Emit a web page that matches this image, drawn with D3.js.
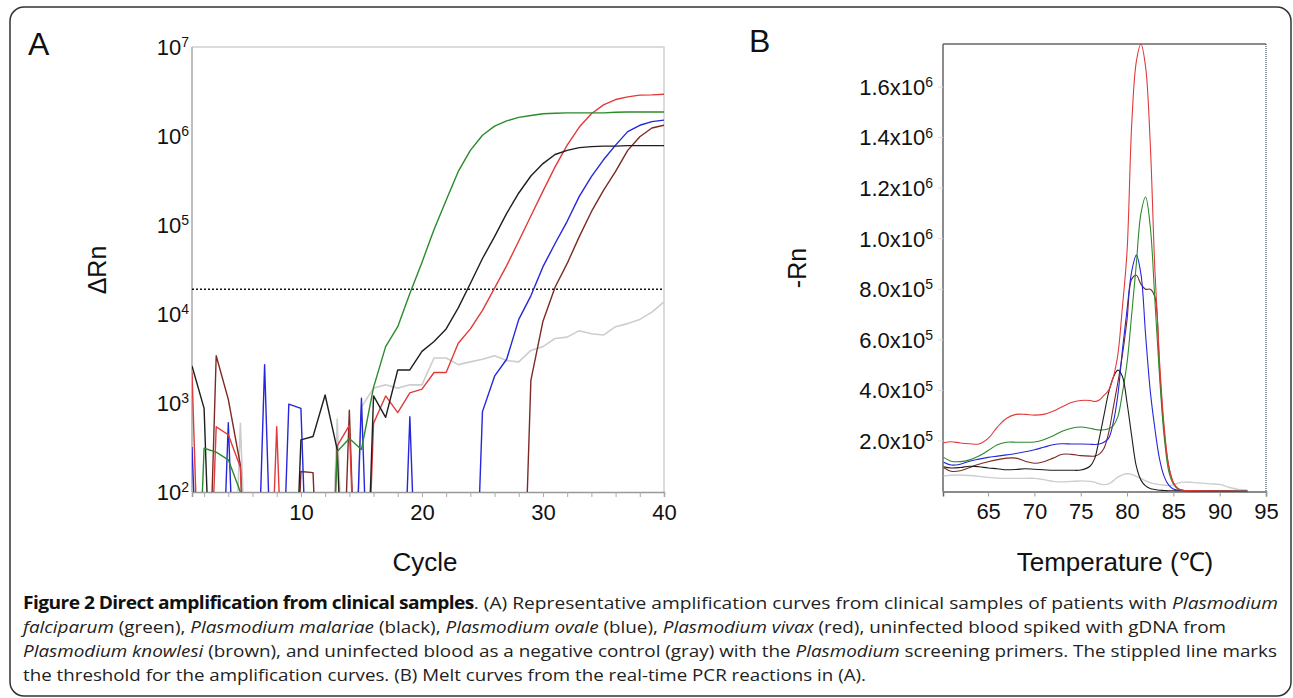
<!DOCTYPE html>
<html><head><meta charset="utf-8">
<script src="https://cdn.jsdelivr.net/npm/d3@7"></script>
<style>body{margin:0;background:#fff}svg{display:block}</style>
</head><body>
<svg id="chart" width="1293" height="698"></svg>
<script>
// ---------- Panel A: amplification curves (ΔRn per cycle, null = below detection) ----------
const cycles = [1,2,3,4,5,6,7,8,9,10,11,12,13,14,15,16,17,18,19,20,21,22,23,24,25,26,27,28,29,30,31,32,33,34,35,36,37,38,39,40];
const ampGreen = [null,310,280,230,100,null,null,null,null,null,null,null,285,400,300,1500,4300,7200,17000,38000,89000,190000,400000,690000,1020000,1290000,1480000,1620000,1700000,1780000,1800000,1820000,1820000,1820000,1820000,1850000,1860000,1860000,1860000,1860000];
const ampBlack = [2600,870,null,null,null,null,null,null,null,385,420,1230,300,null,null,1200,690,2350,2350,3800,4900,6800,11700,22000,42000,74000,135000,229000,355000,490000,620000,690000,740000,760000,770000,770000,780000,780000,780000,780000];
const ampRed = [2200,null,540,440,190,null,null,540,null,null,null,null,330,560,null,590,1200,780,1300,1430,2200,2200,4700,6800,11000,19500,35000,66000,126000,240000,450000,790000,1260000,1780000,2240000,2570000,2750000,2880000,2900000,2950000];
const ampBlue = [320,null,null,600,null,null,2700,null,970,870,null,null,null,null,1130,null,null,null,700,null,null,null,null,null,800,2000,3100,8700,16000,34000,62000,110000,210000,350000,540000,790000,1120000,1320000,1450000,1510000];
const ampBrown = [null,null,3400,1100,200,null,null,null,null,170,165,null,null,830,null,null,null,null,null,null,null,null,null,null,null,null,null,null,1800,8300,20000,37000,74000,141000,245000,400000,690000,980000,1230000,1320000];
const ampGray = [null,null,null,null,590,null,null,null,null,null,null,null,660,null,900,1470,1600,1470,1600,1600,3200,3200,2700,2900,3100,3400,3000,2900,3900,4300,5300,5500,6500,6000,5800,7200,7800,8700,10500,13700];
const ampThreshold = 19000;
const ampXTickLabels = [10,20,30,40];
const ampXTicks = [2,4,6,8,10,12,14,16,18,20,22,24,26,28,30,32,34,36,38,40];
const ampYExponents = [2,3,4,5,6,7];

// ---------- Panel B: melt curves (-Rn, in units of 1e5) ----------
const meltTemps = [60.2,61,62,63,64,65,66,67,68,69,70,71,72,73,74,75,76,76.5,77,77.5,78,78.5,79,79.5,80,80.5,81,81.5,82,82.5,83,83.5,84,84.5,85,85.5,86,87,88,89,90,91,92,93];
const meltRed   = [1.93,1.97,1.92,1.89,1.88,2.1,2.55,2.9,3.05,3.05,3.02,3.05,3.17,3.35,3.52,3.6,3.6,3.56,3.62,3.8,4.0,4.5,5.4,7.3,9.5,14.5,17.0,17.7,16.8,13.8,8.8,5.2,2.6,1.0,0.35,0.1,0.05,0.04,0.03,0.03,0.02,0.02,0.01,0.01];
const meltGreen = [1.35,1.2,1.18,1.25,1.4,1.62,1.85,1.95,1.95,1.95,1.96,2.05,2.2,2.38,2.5,2.55,2.5,2.46,2.43,2.44,2.48,2.6,2.95,3.9,5.1,7.0,9.0,11.0,11.65,10.5,7.6,4.6,2.2,0.8,0.3,0.1,0.05,0.03,0.03,0.02,0.02,0.02,0.01,0.01];
const meltBlue  = [1.16,1.05,1.08,1.2,1.28,1.35,1.4,1.45,1.5,1.57,1.65,1.75,1.85,1.89,1.88,1.88,1.87,1.86,1.88,1.95,2.1,2.7,3.8,5.6,7.2,8.7,9.35,8.6,6.2,4.0,2.5,1.3,0.6,0.25,0.1,0.05,0.03,0.02,0.02,0.02,0.01,0.01,0.01,0.01];
const meltBlack = [0.98,0.93,0.95,1.0,0.98,0.93,0.9,0.86,0.87,0.9,0.88,0.86,0.84,0.84,0.84,0.85,1.0,1.3,2.1,3.0,3.9,4.5,4.8,4.55,3.5,2.2,1.0,0.45,0.22,0.12,0.08,0.05,0.04,0.03,0.03,0.02,0.02,0.01,0.01,0.01,0.01,0.01,0.01,0.01];
const meltBrown = [0.95,0.8,0.82,0.95,1.08,1.18,1.26,1.32,1.32,1.2,1.12,1.18,1.32,1.47,1.47,1.42,1.4,1.4,1.48,1.7,2.3,3.3,4.3,5.4,6.8,8.4,8.55,8.2,8.0,8.0,7.7,4.9,2.4,1.0,0.35,0.12,0.05,0.04,0.03,0.03,0.02,0.02,0.01,0.01];
const meltGray  = [0.61,0.64,0.65,0.63,0.6,0.56,0.53,0.52,0.52,0.52,0.52,0.47,0.4,0.38,0.4,0.42,0.4,0.37,0.3,0.27,0.3,0.42,0.57,0.66,0.7,0.68,0.6,0.52,0.42,0.35,0.3,0.27,0.25,0.24,0.26,0.33,0.37,0.36,0.33,0.3,0.28,0.17,0.08,0.06];
const meltXTicks = [65,70,75,80,85,90,95];
const meltYTicks = [2e5,4e5,6e5,8e5,1.0e6,1.2e6,1.4e6,1.6e6];

const seriesColors = {green:"#2b8a2b", black:"#1e1e1e", red:"#e23a3a", blue:"#2626dc", brown:"#7c2a24", gray:"#cdcdcd"};

// ---------- Drawing ----------
const svg = d3.select("#chart");
const FONT = "'Liberation Sans', Arial, Helvetica, sans-serif";
svg.append("rect").attr("x",10).attr("y",7).attr("width",1281).attr("height",689)
  .attr("rx",14).attr("fill","none").attr("stroke","#333").attr("stroke-width",1.5);

// Panel A
const xA = d3.scaleLinear().domain([1,40]).range([192,664]);
const yA = d3.scaleLog().domain([1e2,1e7]).range([492,47]);
const FLOOR = 0.1;
const defs = svg.append("defs");
defs.append("clipPath").attr("id","clipA").append("rect").attr("x",192).attr("y",47).attr("width",472).attr("height",445);
defs.append("clipPath").attr("id","clipB").append("rect").attr("x",943).attr("y",44).attr("width",323).attr("height",447.5);

const gA = svg.append("g");
gA.append("path").attr("d",`M192,47H664V492`).attr("fill","none").attr("stroke","#cfcfcf").attr("stroke-width",1.5);
gA.append("line").attr("x1",192).attr("x2",192).attr("y1",47).attr("y2",492).attr("stroke","#aaa").attr("stroke-width",1.5);

const xAxisA = d3.axisBottom(xA).tickValues(ampXTicks).tickSize(5).tickPadding(7)
  .tickFormat(d => ampXTickLabels.includes(d) ? d : "");
const axA = gA.append("g").attr("transform","translate(0,492)").call(xAxisA);
axA.select(".domain").attr("stroke","#999").attr("stroke-width",1.5);
axA.selectAll(".tick line").attr("stroke","#aaa");
axA.selectAll("text").attr("font-family",FONT).attr("font-size",22).attr("fill","#111");

ampYExponents.forEach(e => {
  const t = gA.append("text").attr("x",189).attr("y",yA(Math.pow(10,e))).attr("dy","0.36em")
    .attr("text-anchor","end").attr("font-family",FONT).attr("font-size",22).attr("fill","#111");
  t.append("tspan").text("10");
  t.append("tspan").attr("dy","-0.55em").attr("font-size",14).text(e);
});

gA.append("line").attr("x1",xA(1)).attr("x2",xA(40)).attr("y1",yA(ampThreshold)).attr("y2",yA(ampThreshold))
  .attr("stroke","#111").attr("stroke-width",1.6).attr("stroke-dasharray","2,2");

const lineA = d3.line().x((d,i)=>xA(cycles[i])).y(d=>yA(d==null?FLOOR:d));
const ampSeries = [[ampGray,"gray"],[ampBrown,"brown"],[ampBlue,"blue"],[ampRed,"red"],[ampBlack,"black"],[ampGreen,"green"]];
const linesA = gA.append("g").attr("clip-path","url(#clipA)");
ampSeries.forEach(([data,c]) => {
  linesA.append("path").datum(data).attr("d",lineA).attr("fill","none")
    .attr("stroke",seriesColors[c]).attr("stroke-width",c==="gray"?1.6:1.4).attr("stroke-linejoin","round");
});

gA.append("text").attr("x",28).attr("y",55).attr("font-family",FONT).attr("font-size",32).attr("fill","#111").text("A");
gA.append("text").attr("x",425).attr("y",571).attr("text-anchor","middle").attr("font-family",FONT).attr("font-size",26).attr("fill","#111").text("Cycle");
gA.append("text").attr("transform","translate(97,270) rotate(-90)").attr("text-anchor","middle").attr("dy","0.35em")
  .attr("font-family",FONT).attr("font-size",25).attr("fill","#111").text("ΔRn");

// Panel B
const xB = d3.scaleLinear().domain([60.13,95]).range([943,1266]);
const yB = d3.scaleLinear().domain([0,1.77e6]).range([491.5,44]);
const gB = svg.append("g");
gB.append("line").attr("x1",943).attr("x2",1266).attr("y1",44).attr("y2",44).attr("stroke","#666").attr("stroke-width",1.5);
gB.append("line").attr("x1",943).attr("x2",943).attr("y1",44).attr("y2",491.5).attr("stroke","#666").attr("stroke-width",1.5);
gB.append("line").attr("x1",1266).attr("x2",1266).attr("y1",44).attr("y2",491.5).attr("stroke","#34506a").attr("stroke-width",1.2).attr("stroke-dasharray","1,1");

const xAxisB = d3.axisBottom(xB).tickValues(meltXTicks).tickSize(5).tickPadding(7).tickFormat(d=>d);
const axB = gB.append("g").attr("transform","translate(0,491.5)").call(xAxisB);
axB.select(".domain").attr("stroke","#666").attr("stroke-width",1.5);
axB.selectAll(".tick line").attr("stroke","#999");
axB.selectAll("text").attr("font-family",FONT).attr("font-size",22).attr("fill","#111");

meltYTicks.forEach(v => {
  const exp = Math.floor(Math.log10(v) + 1e-9);
  const mant = (v / Math.pow(10,exp)).toFixed(1);
  gB.append("line").attr("x1",938).attr("x2",943).attr("y1",yB(v)).attr("y2",yB(v)).attr("stroke","#ddd");
  const t = gB.append("text").attr("x",933).attr("y",yB(v)).attr("dy","0.36em")
    .attr("text-anchor","end").attr("font-family",FONT).attr("font-size",22).attr("fill","#111");
  t.append("tspan").text(mant + "x10");
  t.append("tspan").attr("dy","-0.55em").attr("font-size",14).text(exp);
});

const lineB = d3.line().x((d,i)=>xB(meltTemps[i])).y(d=>yB(d*1e5)).curve(d3.curveCatmullRom.alpha(0.5));
const meltSeries = [[meltGray,"gray"],[meltBrown,"brown"],[meltBlue,"blue"],[meltGreen,"green"],[meltBlack,"black"],[meltRed,"red"]];
const linesB = gB.append("g").attr("clip-path","url(#clipB)");
meltSeries.forEach(([data,c]) => {
  linesB.append("path").datum(data).attr("d",lineB).attr("fill","none")
    .attr("stroke",seriesColors[c]).attr("stroke-width",c==="gray"?1.4:1.1);
});

gB.append("text").attr("x",749).attr("y",52).attr("font-family",FONT).attr("font-size",32).attr("fill","#111").text("B");
gB.append("text").attr("x",1115).attr("y",571).attr("text-anchor","middle").attr("font-family",FONT).attr("font-size",26).attr("fill","#111").text("Temperature (℃)");
gB.append("text").attr("transform","translate(797,268) rotate(-90)").attr("text-anchor","middle").attr("dy","0.35em")
  .attr("font-family",FONT).attr("font-size",25).attr("fill","#111").text("-Rn");

// Caption
const CAP = "'Open Sans', 'Noto Sans', sans-serif";
const captionLines = [
  {y:609, w:1255, parts:[["b","Figure 2 Direct amplification from clinical samples"],["n",". (A) Representative amplification curves from clinical samples of patients with "],["i","Plasmodium"]]},
  {y:633, w:1203, parts:[["i","falciparum"],["n"," (green), "],["i","Plasmodium malariae"],["n"," (black), "],["i","Plasmodium ovale"],["n"," (blue), "],["i","Plasmodium vivax"],["n"," (red), uninfected blood spiked with gDNA from"]]},
  {y:657, w:1254, parts:[["i","Plasmodium knowlesi"],["n"," (brown), and uninfected blood as a negative control (gray) with the "],["i","Plasmodium"],["n"," screening primers. The stippled line marks"]]},
  {y:681, w:843, parts:[["n","the threshold for the amplification curves. (B) Melt curves from the real-time PCR reactions in (A)."]]}
];
captionLines.forEach(l => {
  const t = svg.append("text").attr("x",23).attr("y",l.y).attr("font-family",CAP).attr("font-size",17).attr("fill","#222")
    .attr("textLength",l.w).attr("lengthAdjust","spacingAndGlyphs").attr("xml:space","preserve");
  l.parts.forEach(([s,txt]) => {
    const sp = t.append("tspan").text(txt);
    if (s==="b") sp.attr("font-weight","bold").attr("fill","#111").attr("letter-spacing","-0.5");
    if (s==="i") sp.attr("font-style","italic");
  });
});
</script>
</body></html>
